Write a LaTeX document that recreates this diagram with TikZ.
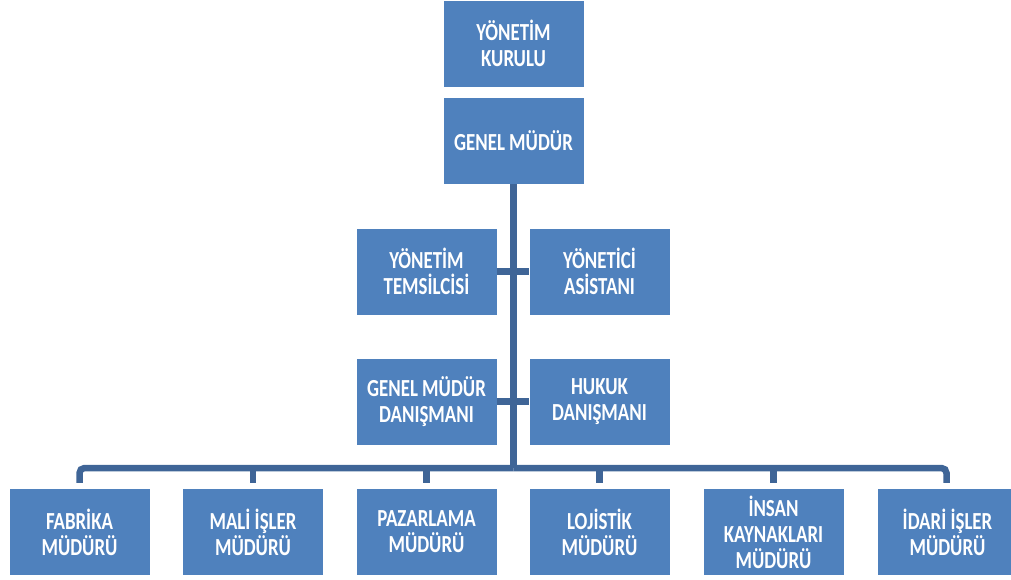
\documentclass[tikz,border=0pt]{standalone}
\usepackage{fontspec}
\setmainfont[FakeStretch=0.77]{Carlito}
\begin{document}
\begin{tikzpicture}[x=1pt,y=-1pt,
  box/.style={fill=boxblue,draw=none,minimum width=140pt,minimum height=86pt,inner sep=0pt,
    align=center,text=white,font=\fontsize{24.5}{26}\selectfont\bfseries},
  conn/.style={draw=connblue,line width=6.5pt,line cap=butt}]
\definecolor{boxblue}{RGB}{79,129,189}
\definecolor{connblue}{RGB}{63,101,151}
\useasboundingbox (0,0) rectangle (1011,579);
\begin{scope}
\clip (0,0) rectangle (1011,579);
\node[box] (yk) at (513.5,43.5) {YÖNETİM\\KURULU};
\node[box] (gm) at (513.5,141) {GENEL MÜDÜR};
\node[box] (yt) at (426.5,271.5) {YÖNETİM\\TEMSİLCİSİ};
\node[box] (ya) at (599.5,271.5) {YÖNETİCİ\\ASİSTANI};
\node[box] (gmd) at (426.5,401.5) {GENEL MÜDÜR\\DANIŞMANI};
\node[box] (hd) at (599.5,401.5) {HUKUK\\DANIŞMANI};
\node[box] (fab) at (79.5,532) {FABRİKA\\MÜDÜRÜ};
\node[box] (mali) at (253,532) {MALİ İŞLER\\MÜDÜRÜ};
\node[box] (paz) at (426.5,532) {PAZARLAMA\\MÜDÜRÜ};
\node[box] (loj) at (599.5,532) {LOJİSTİK\\MÜDÜRÜ};
\node[box] (ik) at (773.5,532) {İNSAN\\KAYNAKLARI\\MÜDÜRÜ};
\node[box] (idari) at (947.5,532) {İDARİ İŞLER\\MÜDÜRÜ};
\end{scope}
\coordinate (bus) at (513.5,468);
\draw[conn] (gm.south) -- (bus);
\draw[conn] (yt.east) -- (ya.west);
\draw[conn] (gmd.east) -- (hd.west);
\draw[conn,rounded corners=5pt,shorten >=6pt] (bus) -| (fab.north);
\draw[conn,rounded corners=5pt,shorten >=6pt] (bus) -| ([xshift=-1pt]idari.north);
\foreach \b in {mali,paz,loj,ik}{
  \draw[conn,shorten >=6pt] (bus -| \b.north) -- (\b.north);
}
\end{tikzpicture}
\end{document}
